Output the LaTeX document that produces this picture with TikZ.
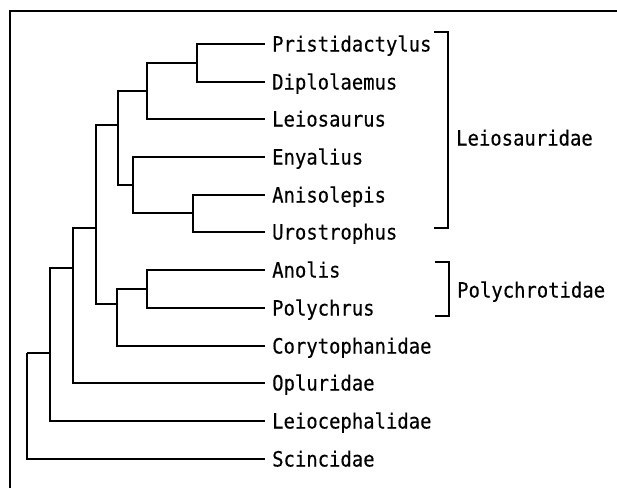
\documentclass[tikz,border=0pt]{standalone}
\usepackage{fontspec}
\newfontfamily\taxafont[FakeStretch=0.9,FakeBold=0.3]{DejaVu Sans Mono}
\usepackage{tikz}
\usetikzlibrary{positioning}
\definecolor{ink}{HTML}{000000}
\tikzset{
  branch/.style={draw=ink,line width=2pt},
  bracket/.style={draw=ink,line width=2pt},
  frame/.style={draw=ink,line width=2pt},
  taxon/.style={anchor=west,inner xsep=7pt,inner ysep=0pt,text height=15pt,text depth=0pt,
                font=\taxafont\fontsize{21}{22}\selectfont,text=ink},
  clade/.style={taxon,inner xsep=0pt}
}
\begin{document}
\begin{tikzpicture}[x=1pt,y=-1pt]
  \useasboundingbox (0,0) rectangle (617,488);
  \draw[frame] (10,488) |- (617,11);
  % terminal taxa
  \foreach \name/\txt/\ypos in {pris/Pristidactylus/44,dipl/Diplolaemus/82,leis/Leiosaurus/119,
      enya/Enyalius/157,anis/Anisolepis/195,uros/Urostrophus/232,anol/Anolis/270,poly/Polychrus/308,
      cory/Corytophanidae/346,oplu/Opluridae/383,lcep/Leiocephalidae/421,scin/Scincidae/459}
    \node[taxon] (\name) at (265,\ypos) {\txt};
  % internal nodes
  \coordinate (pd) at (197,63);
  \coordinate (pdl) at (147,91);
  \coordinate (au) at (193,213);
  \coordinate (eau) at (133,185);
  \coordinate (leio) at (118,125);
  \coordinate (ap) at (147,289);
  \coordinate (apc) at (117,304);
  \coordinate (lp) at (96,228);
  \coordinate (lpo) at (73,268);
  \coordinate (lpol) at (50,353);
  \coordinate (root) at (27,353);
  \draw[branch] (pd) |- (pris.west) (pd) |- (dipl.west);
  \draw[branch] (pdl) |- (pd) (pdl) |- (leis.west);
  \draw[branch] (au) |- (anis.west) (au) |- (uros.west);
  \draw[branch] (eau) |- (enya.west) (eau) |- (au);
  \draw[branch] (leio) |- (pdl) (leio) |- (eau);
  \draw[branch] (ap) |- (anol.west) (ap) |- (poly.west);
  \draw[branch] (apc) |- (ap) (apc) |- (cory.west);
  \draw[branch] (lp) |- (leio) (lp) |- (apc);
  \draw[branch] (lpo) |- (lp) (lpo) |- (oplu.west);
  \draw[branch] (lpol) |- (lpo) (lpol) |- (lcep.west);
  \draw[branch] (root) -- (lpol) (root) |- (scin.west);
  % family brackets
  \coordinate (leiotop) at (448,32);
  \coordinate (leiobot) at (448,228);
  \coordinate (polytop) at (449,262);
  \coordinate (polybot) at (449,316);
  \draw[bracket] ([xshift=-14pt]leiotop) -- (leiotop) -- (leiobot) -- ([xshift=-14pt]leiobot);
  \draw[bracket] ([xshift=-14pt]polytop) -- (polytop) -- (polybot) -- ([xshift=-14pt]polybot);
  \node[clade] (leiofam) at (456,138) {Leiosauridae};
  \node[clade] (polyfam) at (457,290) {Polychrotidae};
\end{tikzpicture}
\end{document}
